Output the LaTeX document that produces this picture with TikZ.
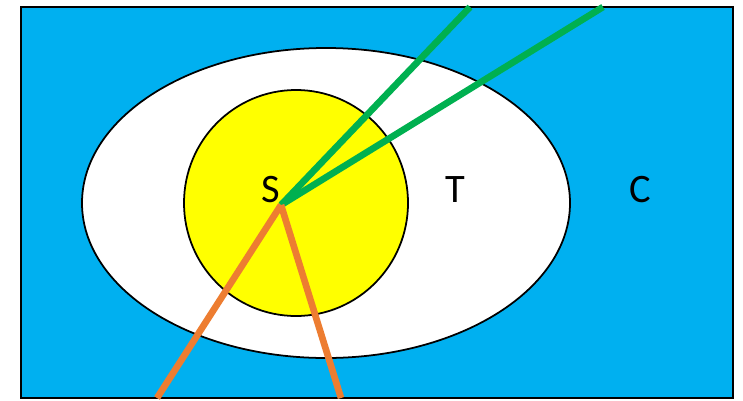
\documentclass[tikz,border=0pt]{standalone}
\usepackage{fontspec}
\setmainfont{Carlito}
\definecolor{skyblue}{HTML}{00B0F0}
\definecolor{sunyellow}{HTML}{FFFF00}
\definecolor{setgreen}{HTML}{00B050}
\definecolor{setorange}{HTML}{ED7D31}
\tikzset{
    lbl/.style={font=\fontsize{11.5}{13}\selectfont, inner sep=0pt},
    ray/.style={line width=1.9pt},
}
\begin{document}
\begin{tikzpicture}[x=0.01cm,y=-0.01cm]
    \useasboundingbox (0,0) rectangle (743,400);
    \draw[fill=skyblue, line width=0.6pt] (21,7) rectangle (733,398);
    \draw[fill=white, line width=0.5pt] (326,203) ellipse [x radius=244, y radius=155];
    \draw[fill=sunyellow, line width=0.5pt] (296,203) ellipse [x radius=112, y radius=113];
    \node[lbl] (S) at (271,190) {S};
    \node[lbl] (T) at (455,190) {T};
    \node[lbl] (C) at (640,190) {C};
    \coordinate (o) at (281,205);
    \coordinate (g1) at (470,7);
    \coordinate (g2) at (603,7);
    \coordinate (r1) at (157,398);
    \coordinate (r2) at (341,398);
    \draw[ray, setgreen] (o) -- (g1);
    \draw[ray, setgreen] (o) -- (g2);
    \draw[ray, setorange] (o) -- (r1);
    \draw[ray, setorange] (o) -- (r2);
\end{tikzpicture}
\end{document}
